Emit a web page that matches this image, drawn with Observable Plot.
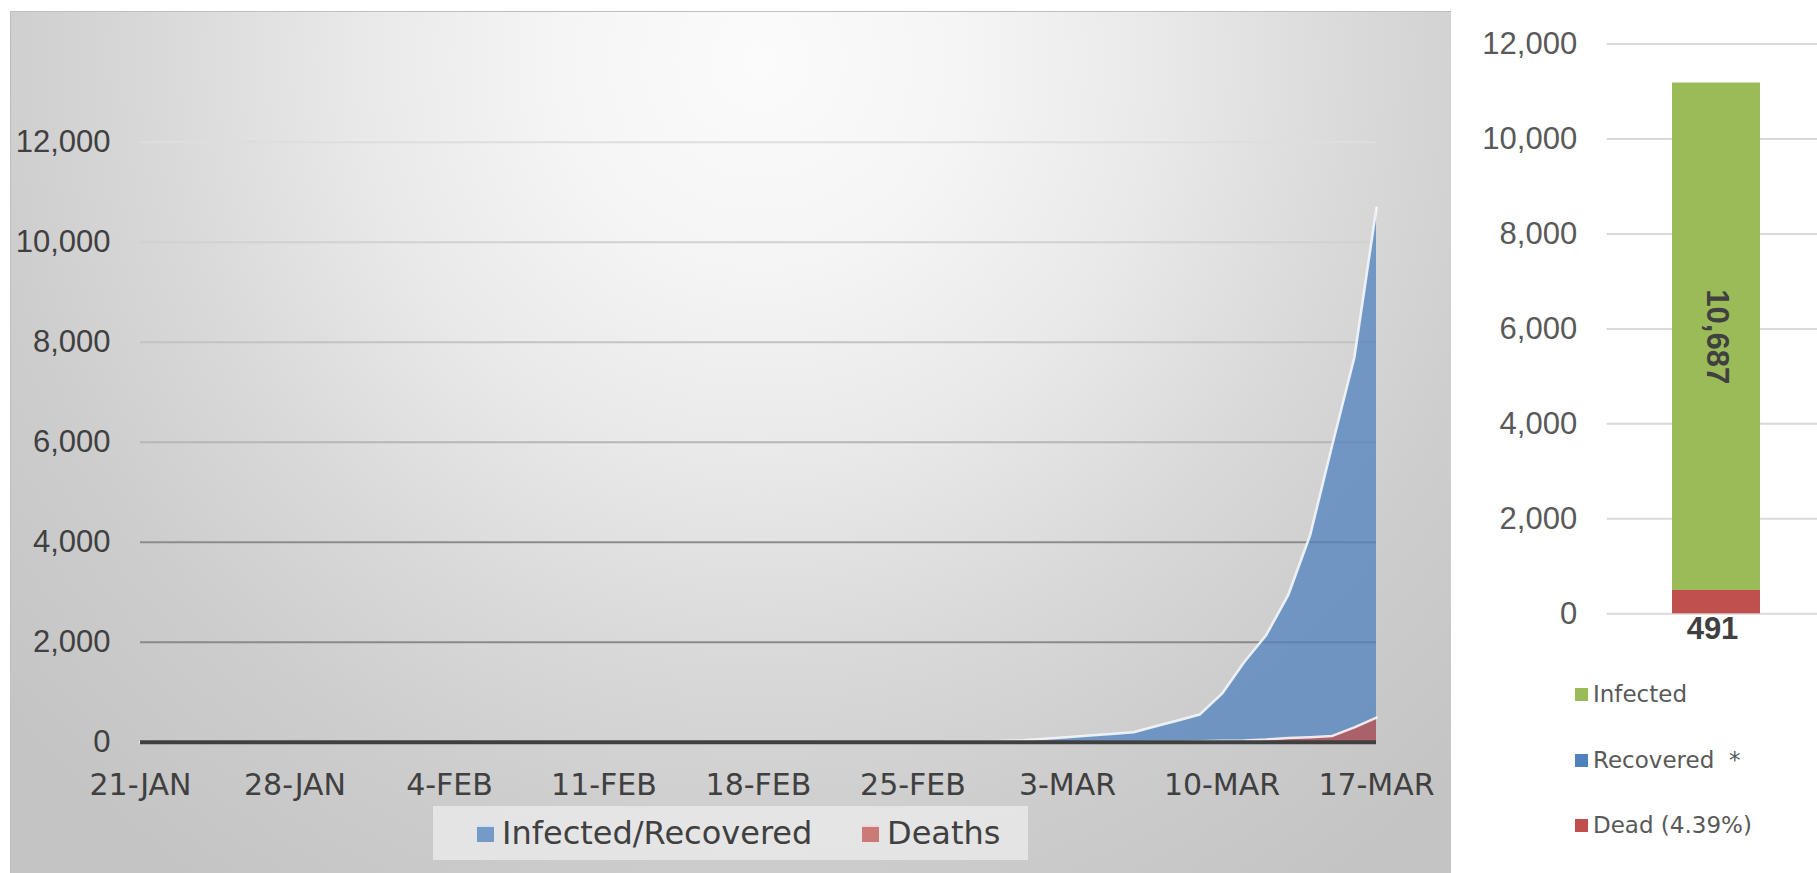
<!DOCTYPE html>
<html>
<head>
<meta charset="utf-8">
<script src="https://cdn.jsdelivr.net/npm/d3@7"></script>
<script src="https://cdn.jsdelivr.net/npm/@observablehq/plot@0.6"></script>
<style>
  html, body { margin: 0; padding: 0; background: #fff; width: 1817px; height: 873px; overflow: hidden; }
  #left {
    position: absolute; left: 10px; top: 11px; width: 1441px; height: 870px;
    background: radial-gradient(circle at 750px 50px, #fbfbfb 0px, #f5f5f5 200px, #e9e9e9 400px, #d9d9d9 600px, #cdcdcd 780px, #c4c4c4 1000px);
    box-shadow: inset 1px 1px 0 #bdbdbd;
    overflow: hidden;
  }
  #leftplot { position: absolute; left: 0; top: 0; }
  #legendL {
    position: absolute; left: 423px; top: 795px; width: 595px; height: 54px;
    background: rgba(236,236,236,0.75);
    font-family: "DejaVu Sans"; font-size: 32px; color: #404040;
  }
  #legendL .item { position: absolute; top: 0; height: 54px; display: flex; align-items: center; }
  #legendL .sw { width: 17px; height: 17px; margin-right: 8px; box-sizing: border-box; border-top: 2px solid rgba(255,255,255,0.7); }
  #right { position: absolute; left: 1451px; top: 0; width: 366px; height: 873px; }
  #legendR { position: absolute; left: 1575px; top: 0; font-family: "DejaVu Sans"; font-size: 23px; color: #595959; }
  #legendR .item { position: absolute; left: 0; display: flex; align-items: center; white-space: pre; height: 30px; }
  #legendR .sw { width: 13px; height: 13px; margin-right: 5px; }
</style>
</head>
<body>
<div id="left">
  <div id="leftplot"></div>
  <div id="legendL"></div>
</div>
<div id="right"></div>
<div id="legendR"></div>
<script>
// ---------- data ----------
const startDate = "2020-01-21";
// cumulative Infected/Recovered, one value per day from 21-JAN to 17-MAR
const infectedRecovered = [
  0, 0, 0, 0, 0, 0, 0, 0, 0, 0,          // 21-30 JAN
  1, 1, 1, 1, 1, 1, 1, 1, 1,             // 31 JAN - 8 FEB
  2, 2, 2, 2, 2, 2, 2, 2, 2, 2, 2, 2, 2, 2, 2, 2, // 9-24 FEB
  3, 6, 10, 15, 25,                       // 25-29 FEB
  40, 70, 100, 135, 165, 200, 320, 435, 555, 970, // 1-10 MAR
  1600, 2140, 2940, 4150, 5950, 7700, 10687      // 11-17 MAR
];
// cumulative deaths, same days
const deaths = [
  0, 0, 0, 0, 0, 0, 0, 0, 0, 0,
  0, 0, 0, 0, 0, 0, 0, 0, 0,
  0, 0, 0, 0, 0, 0, 0, 0, 0, 0, 0, 0, 0, 0, 0, 0,
  0, 0, 0, 0, 0,
  0, 0, 1, 2, 3, 5, 8, 10, 17, 28,
  35, 54, 84, 100, 125, 295, 491
];
const yTicksLeft = [0, 2000, 4000, 6000, 8000, 10000, 12000];
const xTickDates = ["2020-01-21", "2020-01-28", "2020-02-04", "2020-02-11", "2020-02-18", "2020-02-25", "2020-03-03", "2020-03-10", "2020-03-17"];
const xTickLabels = ["21-JAN", "28-JAN", "4-FEB", "11-FEB", "18-FEB", "25-FEB", "3-MAR", "10-MAR", "17-MAR"];
const leftLegend = ["Infected/Recovered", "Deaths"];

const barCategory = "17-MAR";
const barSeries = ["Dead", "Recovered", "Infected"];
const barValues = [491, 0, 10687];
const barColors = ["#C0504D", "#4F81BD", "#9BBB59"];
const yTicksRight = [0, 2000, 4000, 6000, 8000, 10000, 12000];
const rightLegend = ["Infected", "Recovered  *", "Dead (4.39%)"];
const rightLegendColors = ["#9BBB59", "#4F81BD", "#C0504D"];

// ---------- left chart ----------
const parse = d3.utcParse("%Y-%m-%d");
const dates = d3.utcDay.range(parse(startDate), d3.utcDay.offset(parse(startDate), infectedRecovered.length));
const rows = dates.map((date, i) => ({date, infected: infectedRecovered[i], deaths: deaths[i]}));
const tickDates = xTickDates.map(parse);
const tickLabelByTime = new Map(tickDates.map((d, i) => [+d, xTickLabels[i]]));
const gridColor = d3.scaleLinear().domain([0, 4000, 6000, 12000]).range(["#878787", "#8c8c8c", "#b6b6b6", "#dedede"]);

const H = 800;
const left = Plot.plot({
  width: 1441, height: H,
  marginLeft: 130, marginRight: 75, marginTop: 130.7, marginBottom: H - 730.7,
  style: {background: "transparent", overflow: "visible"},
  x: {type: "utc", domain: [dates[0], dates[dates.length - 1]]},
  y: {domain: [0, 12000]},
  color: {type: "identity"},
  marks: [
    Plot.ruleY(yTicksLeft.filter(v => v > 0), {y: d => d, stroke: d => gridColor(d), strokeWidth: 2}),
    Plot.areaY(rows, {x: "date", y: "infected", fill: "#4F81BD", fillOpacity: 0.75}),
    Plot.lineY(rows, {x: "date", y: "infected", stroke: "white", strokeWidth: 2.5, strokeOpacity: 0.85}),
    Plot.areaY(rows, {x: "date", y: "deaths", fill: "#C0504D", fillOpacity: 0.75}),
    Plot.lineY(rows, {x: "date", y: "deaths", stroke: "white", strokeWidth: 2.5, strokeOpacity: 0.85}),
    Plot.ruleY([0], {stroke: "#404040", strokeWidth: 4}),
    Plot.axisY({ticks: yTicksLeft, tickSize: 0, tickPadding: 30, tickFormat: d3.format(","), fontSize: 31, fontFamily: "Liberation Sans", fill: "#404040", label: null}),
    Plot.axisX({ticks: tickDates, tickSize: 0, tickPadding: 31, tickFormat: d => tickLabelByTime.get(+d), fontSize: 30, fontFamily: "DejaVu Sans", fill: "#404040", label: null})
  ]
});
document.getElementById("leftplot").appendChild(left);

const legL = document.getElementById("legendL");
const legLPos = [44, 429];
const legLColors = ["rgba(79,129,189,0.75)", "rgba(192,80,77,0.72)"];
leftLegend.forEach((t, i) => {
  const it = document.createElement("div");
  it.className = "item";
  it.style.left = legLPos[i] + "px";
  it.innerHTML = `<div class="sw" style="background:${legLColors[i]}"></div><span>${t}</span>`;
  legL.appendChild(it);
});

// ---------- right chart ----------
const barRows = barSeries.map((s, i) => ({cat: barCategory, series: s, value: barValues[i]}));
const fmt = d3.format(",");
const RH = 873;
const right = Plot.plot({
  width: 366, height: RH,
  marginLeft: 155.7, marginRight: -8.3, marginTop: 43.5, marginBottom: RH - 613.3,
  style: {background: "transparent", overflow: "visible"},
  x: {domain: [barCategory], padding: 0.426, axis: null},
  y: {domain: [0, 12000]},
  color: {domain: barSeries, range: barColors},
  marks: [
    Plot.ruleY(yTicksRight, {stroke: "#d9d9d9", strokeWidth: 2}),
    Plot.barY(barRows, Plot.stackY({x: "cat", y: "value", fill: "series"})),
    Plot.text(barRows, Plot.stackY({x: "cat", y: "value", text: d => d.series === "Infected" ? fmt(d.value) : "", rotate: 90, fontSize: 31, fontWeight: "bold", fontFamily: "Liberation Sans", fill: "#404040"})),
    Plot.text(barRows.filter(d => d.series === "Dead"), {x: "cat", y: 0, text: d => fmt(d.value), dy: 15, dx: -4, fontSize: 31, fontWeight: "bold", fontFamily: "Liberation Sans", fill: "#404040"}),
    Plot.axisY({ticks: yTicksRight, tickSize: 0, tickPadding: 30, tickFormat: d3.format(","), fontSize: 31, fontFamily: "Liberation Sans", fill: "#595959", label: null})
  ]
});
document.getElementById("right").appendChild(right);

const legR = document.getElementById("legendR");
const legRCenters = [694, 760, 825];
rightLegend.forEach((t, i) => {
  const it = document.createElement("div");
  it.className = "item";
  it.style.top = (legRCenters[i] - 15) + "px";
  it.innerHTML = `<div class="sw" style="background:${rightLegendColors[i]}"></div><span>${t}</span>`;
  legR.appendChild(it);
});
</script>
</body>
</html>
